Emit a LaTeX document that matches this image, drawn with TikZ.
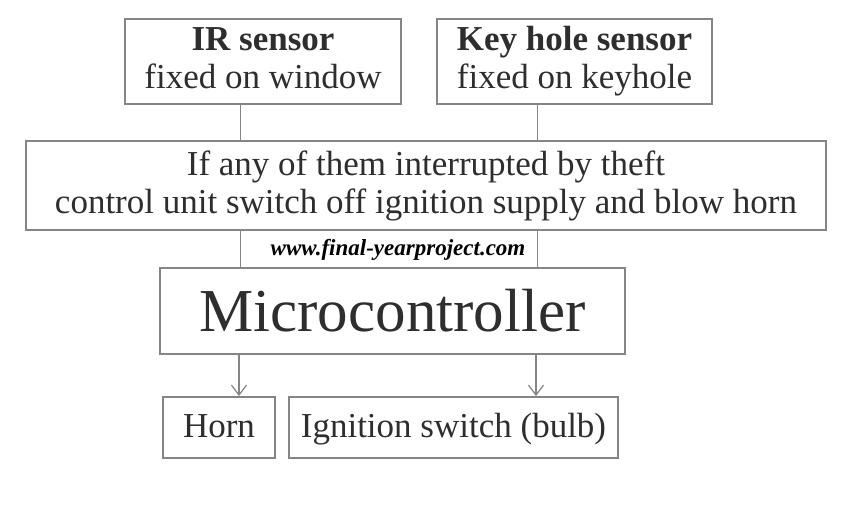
\documentclass[tikz,border=0pt]{standalone}
\usepackage{fontspec}
\setmainfont{Liberation Serif}
\usepackage{tikz}
\usetikzlibrary{arrows.meta}

\definecolor{boxline}{HTML}{858585}
\definecolor{boxtext}{HTML}{2E2E2E}
\tikzset{
	blockbox/.style={draw=boxline, line width=1.8pt, fill=white, text=boxtext, align=center, inner sep=0pt,
		font=\fontsize{35}{38}\selectfont},
	outbox/.style={blockbox, minimum height=61pt, text height=26pt, text depth=6pt},
	link/.style={draw=boxline, line width=1.6pt},
	feed/.style={link, -{Straight Barb[length=10pt, width=15pt, line width=1.2pt]}},
}

\begin{document}
\begin{tikzpicture}[x=1pt, y=-1pt]
		\useasboundingbox (0,0) rectangle (864,524);
		% sensors
		\node[blockbox, minimum width=276pt, minimum height=85pt] (ir) at (263,61.5)
			{\textbf{IR sensor}\\fixed on window\vphantom{y}};
		\node[blockbox, minimum width=275pt, minimum height=85pt] (key) at (574.5,61.5)
			{\textbf{Key hole sensor}\\fixed on keyhole};
		\node[blockbox, minimum width=800pt, minimum height=89pt] (cond) at (426,185.5)
			{If any of them interrupted by theft\\control unit switch off ignition supply and blow horn};
		\node[blockbox, minimum width=465pt, minimum height=86pt, font=\fontsize{61}{64}\selectfont] (mcu) at (392.5,311)
			{Microcontroller};
		\node[outbox, minimum width=112pt] (horn) at (219,427.5) {Horn};
		\node[outbox, minimum width=329pt] (ign) at (453.5,427.5) {Ignition switch (bulb)};
		\node[font=\fontsize{23}{25}\selectfont\bfseries\itshape, text=black] (web) at (398,250)
			{www.final-yearproject.com};
		%\coordinate taps
		\coordinate (lt) at (240.5,0);
		\coordinate (rt) at (537.5,0);
		\coordinate (hs) at (239,0);
		\coordinate (is) at (536,0);
		\path[link]
		(ir.south -| lt) edge (cond.north -| lt)
		(key.south -| rt) edge (cond.north -| rt)
		(cond.south -| lt) edge (mcu.north -| lt)
		(cond.south -| rt) edge (mcu.north -| rt);
		\draw[feed] (mcu.south -| hs) -- (horn.north -| hs);
		\draw[feed] (mcu.south -| is) -- (ign.north -| is);
		\end{tikzpicture}
\end{document}
